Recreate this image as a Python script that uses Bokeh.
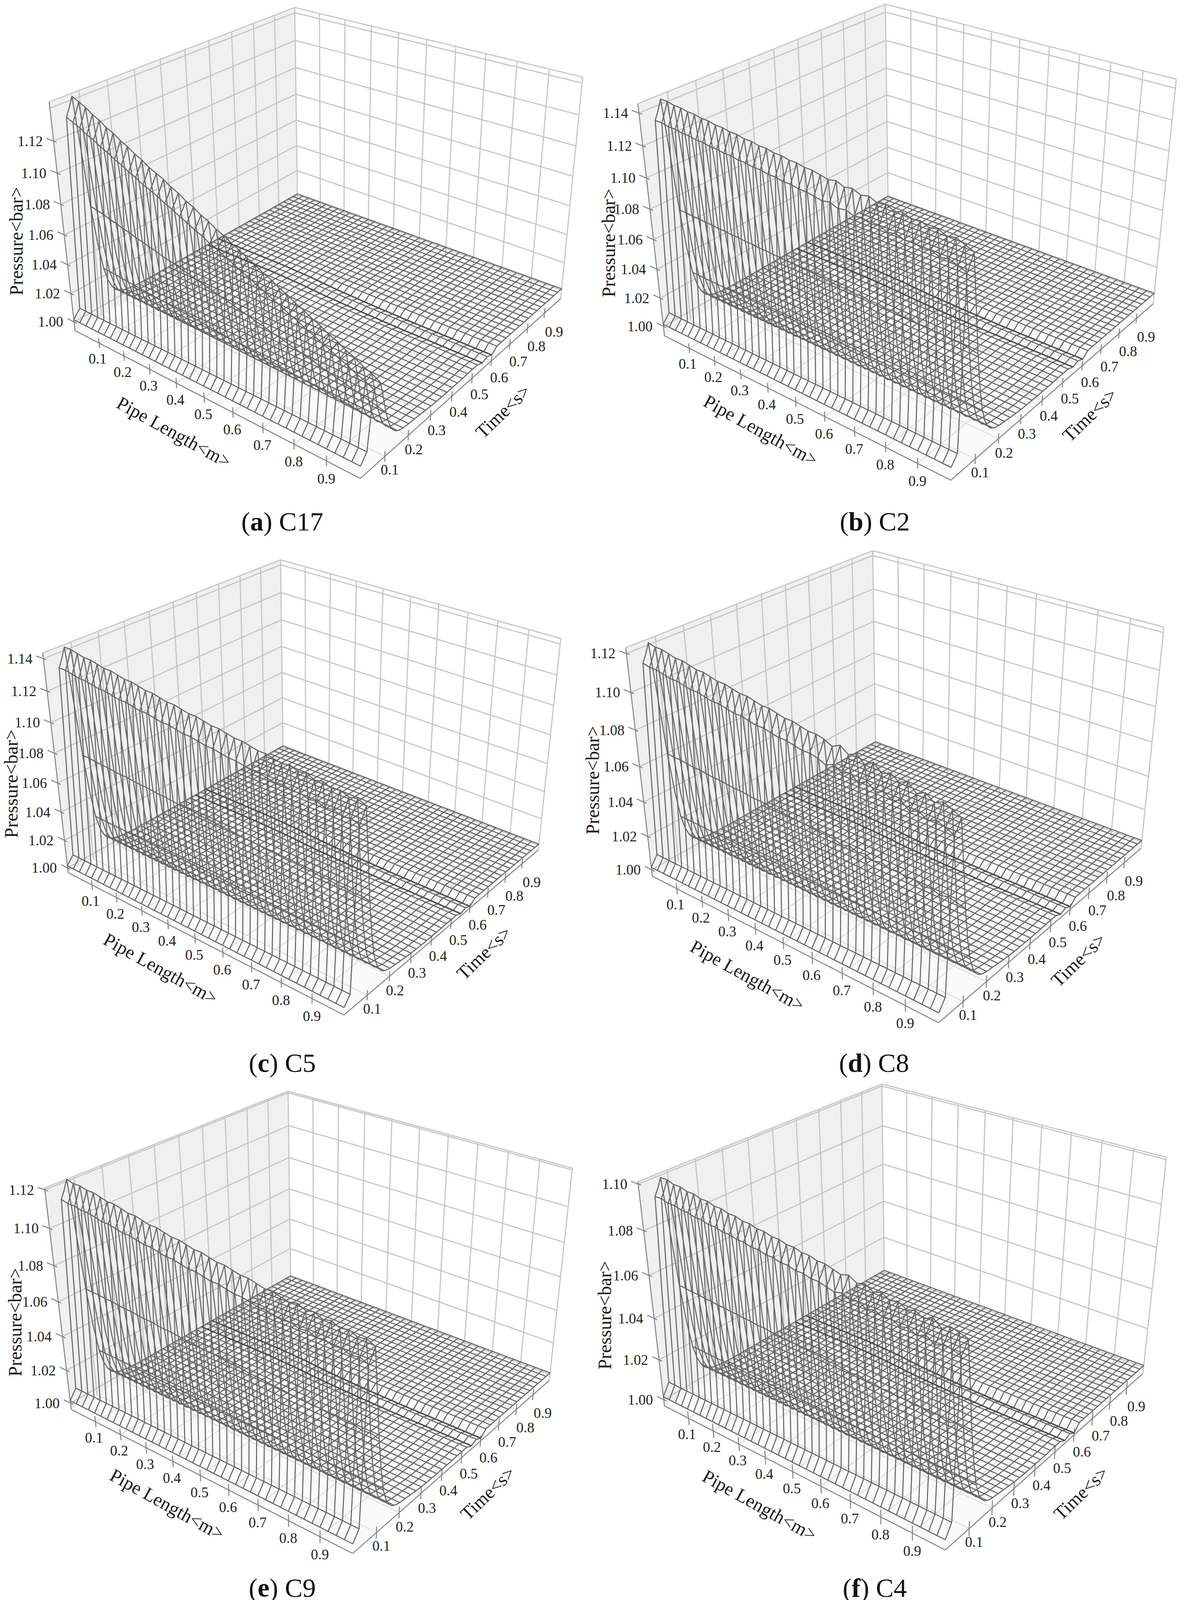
import numpy as np
from bokeh.embed import file_html
from bokeh.layouts import column, row
from bokeh.models import Range1d
from bokeh.plotting import figure
from bokeh.resources import INLINE

# ---------- values ----------
pipe_length_m = [i * 0.025 for i in range(41)]
tick_labels_xy = ["0.1", "0.2", "0.3", "0.4", "0.5", "0.6", "0.7", "0.8", "0.9"]
tick_values_xy = [0.1, 0.2, 0.3, 0.4, 0.5, 0.6, 0.7, 0.8, 0.9]

# time stations of the surface and which of them carry a drawn row
time_s = [0, 0.025, 0.0375, 0.05, 0.0625, 0.075, 0.0875, 0.1, 0.1125, 0.125, 0.1375, 0.15, 0.1625, 0.175, 0.1875,
          0.2, 0.225, 0.25, 0.275, 0.3, 0.325, 0.35, 0.375, 0.4, 0.425, 0.45, 0.475, 0.5, 0.525, 0.55, 0.575, 0.6,
          0.625, 0.65, 0.675, 0.7, 0.725, 0.75, 0.775, 0.8, 0.825, 0.85, 0.875, 0.9, 0.925, 0.95, 0.975, 1.0]
# share of the peak overpressure left at each time station
pulse_share = [0, 0, 0.45, 0.90, 0.95, 1.0, 0.75, 0.49, 0.30, 0.17, 0.10, 0.06, 0.035, 0.022, 0.014,
               0.009, 0.004, 0.002, 0, 0, 0, 0, 0, 0, 0, 0, 0, 0, 0, 0, 0, 0,
               0, 0, 0, 0, 0, 0, 0, 0, 0, 0, 0, 0, 0, 0, 0, 0]
# foot of the wave in bar, the same along the pipe
foot_bar = [0.0015, 0.007, 0.007, 0.004, 0.002, 0.001, 0.001, 0.001, 0.001, 0.001, 0.001, 0.001, 0.001, 0.001, 0.001,
            0.001, 0.001, 0.001, 0.001, 0.001, 0.001, 0.001, 0.001, 0.001, 0.001, 0.001, 0.001, 0.001, 0.001, 0.001, 0.001, 0.001,
            0.001, 0.001, 0.001, 0.001, 0.001, 0.001, 0.001, 0.001, 0.001, 0.001, 0.001, 0.001, 0.001, 0.001, 0.001, 0.001]
# shallow dip after the pulse, in bar, with the two grooves near 0.55 s and 0.6 s
dip_bar = [0, 0, 0, 0, 0, 0, 0, 0, 0, 0, 0, 0, 0, 0, 0,
           0, 0, -0.0003, -0.0006, -0.001, -0.0012, -0.0013, -0.0014, -0.0014, -0.0014, -0.0014, -0.0012, -0.0012, -0.0012, -0.0028, -0.0014, -0.0032,
           0, 0, 0, 0, 0, 0, 0, 0, 0, 0, 0, 0, 0, 0, 0, 0]
dip_along_pipe = [0, 0, 0, 0, 0, 0, 0, 0, 0, 0, 0, 0, 0.05, 0.1, 0.15, 0.2, 0.3, 0.4, 0.5, 0.6, 0.65,
                  0.7, 0.75, 0.8, 0.85, 0.9, 0.9, 0.95, 0.95, 1, 1, 1, 1, 1, 1, 1, 1, 1, 1, 1, 1]

peak_c17 = [1.141, 1.139, 1.137, 1.134, 1.132, 1.129, 1.127, 1.124, 1.122, 1.119, 1.117, 1.114, 1.112, 1.110, 1.107,
            1.105, 1.102, 1.100, 1.097, 1.095, 1.092, 1.090, 1.087, 1.085, 1.082, 1.080, 1.077, 1.075, 1.072, 1.070,
            1.067, 1.065, 1.062, 1.060, 1.057, 1.055, 1.052, 1.050, 1.047, 1.045, 1.042]
peak_c2 = [1.142, 1.142, 1.141, 1.141, 1.140, 1.140, 1.139, 1.139, 1.138, 1.138, 1.137, 1.137, 1.136, 1.136, 1.135,
           1.135, 1.134, 1.134, 1.133, 1.133, 1.132, 1.132, 1.131, 1.130, 1.131, 1.129, 1.130, 1.128, 1.129, 1.127,
           1.128, 1.126, 1.127, 1.125, 1.126, 1.124, 1.125, 1.123, 1.124, 1.122, 1.120]
peak_c5 = [1.141, 1.141, 1.140, 1.139, 1.139, 1.138, 1.137, 1.137, 1.136, 1.135, 1.135, 1.134, 1.133, 1.133, 1.132,
           1.131, 1.131, 1.130, 1.129, 1.129, 1.128, 1.127, 1.127, 1.126, 1.125, 1.125, 1.124, 1.123, 1.123, 1.122,
           1.121, 1.122, 1.120, 1.121, 1.119, 1.120, 1.118, 1.119, 1.117, 1.118, 1.116]
peak_c8 = [1.120, 1.119, 1.119, 1.118, 1.117, 1.117, 1.116, 1.115, 1.115, 1.114, 1.113, 1.113, 1.112, 1.111, 1.111,
           1.110, 1.109, 1.109, 1.108, 1.107, 1.107, 1.106, 1.105, 1.105, 1.104, 1.102, 1.104, 1.101, 1.103, 1.099,
           1.102, 1.098, 1.100, 1.097, 1.099, 1.095, 1.097, 1.094, 1.096, 1.094, 1.092]
peak_c9 = [1.120, 1.119, 1.119, 1.118, 1.118, 1.117, 1.116, 1.116, 1.115, 1.114, 1.114, 1.113, 1.112, 1.112, 1.111,
           1.110, 1.110, 1.109, 1.108, 1.108, 1.107, 1.106, 1.106, 1.105, 1.104, 1.104, 1.103, 1.102, 1.102, 1.101,
           1.100, 1.101, 1.099, 1.100, 1.098, 1.099, 1.097, 1.098, 1.096, 1.097, 1.095]
peak_c4 = [1.098, 1.098, 1.097, 1.097, 1.096, 1.096, 1.095, 1.095, 1.094, 1.094, 1.093, 1.093, 1.092, 1.092, 1.091,
           1.091, 1.090, 1.090, 1.089, 1.089, 1.088, 1.088, 1.087, 1.087, 1.086, 1.085, 1.086, 1.084, 1.085, 1.083,
           1.084, 1.082, 1.083, 1.081, 1.082, 1.080, 1.082, 1.079, 1.081, 1.080, 1.079]

z_grid_c17 = [1.00, 1.02, 1.04, 1.06, 1.08, 1.10, 1.12, 1.14]
z_grid_c2 = [1.00, 1.02, 1.04, 1.06, 1.08, 1.10, 1.12, 1.14]
z_grid_c5 = [1.00, 1.02, 1.04, 1.06, 1.08, 1.10, 1.12, 1.14]
z_grid_c8 = [1.00, 1.02, 1.04, 1.06, 1.08, 1.10, 1.12]
z_grid_c9 = [1.00, 1.02, 1.04, 1.06, 1.08, 1.10, 1.12]
z_grid_c4 = [1.00, 1.02, 1.04, 1.06, 1.08, 1.10]
z_labels_c17 = ["1.00", "1.02", "1.04", "1.06", "1.08", "1.10", "1.12"]
z_labels_c2 = ["1.00", "1.02", "1.04", "1.06", "1.08", "1.10", "1.12", "1.14"]
z_labels_c5 = ["1.00", "1.02", "1.04", "1.06", "1.08", "1.10", "1.12", "1.14"]
z_labels_c8 = ["1.00", "1.02", "1.04", "1.06", "1.08", "1.10", "1.12"]
z_labels_c9 = ["1.00", "1.02", "1.04", "1.06", "1.08", "1.10", "1.12"]
z_labels_c4 = ["1.00", "1.02", "1.04", "1.06", "1.08", "1.10"]

# ---------- layout and camera of each panel (all in page pixels of the reference) ----------
ROW_Y = [8, 1400, 2775, 4110]
ROW_SPLIT = [1520, 1490, 1500]
X_LEFT, X_RIGHT = 8, 3045
SX = 1.0275


def pts(origin, sy, *zoomed):
    return [(origin[0] + a / SX, origin[1] + b / sy) for a, b in zoomed]


PANELS = [
    dict(tag="a", name="C17", peak=peak_c17, grid=z_grid_c17, labels=z_labels_c17, z0=0.9937, z1=1.1437,
         c=pts((0, 0), 1.136, (205, 970), (955, 1400), (1482, 877), (790, 598), (137, 305), (1540, 232)),
         press=pts((0, 0), 1.136, (50, 710))[0], pipe=pts((0, 0), 1.136, (465, 1265))[0], time=pts((0, 0), 1.136, (1330, 1205))[0],
         cap=pts((0, 0), 1.136, (750, 1525))[0]),
    dict(tag="b", name="C2", peak=peak_c2, grid=z_grid_c2, labels=z_labels_c2, z0=0.9932, z1=1.1456,
         c=pts((1526, 0), 1.136, (187, 985), (940, 1405), (1472, 892), (775, 607), (117, 310), (1533, 237)),
         press=pts((1526, 0), 1.136, (40, 715))[0], pipe=pts((1526, 0), 1.136, (440, 1260))[0], time=pts((1526, 0), 1.136, (1305, 1215))[0],
         cap=pts((1526, 0), 1.136, (740, 1525))[0]),
    dict(tag="c", name="C5", peak=peak_c5, grid=z_grid_c5, labels=z_labels_c5, z0=0.9965, z1=1.1435,
         c=pts((0, 1380), 1.12, (187, 965), (912, 1373), (1423, 900), (752, 617), (120, 335), (1485, 265)),
         press=pts((0, 1380), 1.12, (37, 710))[0], pipe=pts((0, 1380), 1.12, (430, 1240))[0], time=pts((0, 1380), 1.12, (1280, 1195))[0],
         cap=pts((0, 1380), 1.12, (750, 1510))[0]),
    dict(tag="d", name="C8", peak=peak_c8, grid=z_grid_c8, labels=z_labels_c8, z0=0.9961, z1=1.1229,
         c=pts((1526, 1380), 1.12, (155, 975), (908, 1395), (1440, 895), (742, 610), (85, 320), (1502, 243)),
         press=pts((1526, 1380), 1.12, (-2, 700))[0], pipe=pts((1526, 1380), 1.12, (405, 1260))[0], time=pts((1526, 1380), 1.12, (1275, 1215))[0],
         cap=pts((1526, 1380), 1.12, (738, 1510))[0]),
    dict(tag="e", name="C9", peak=peak_c9, grid=z_grid_c9, labels=z_labels_c9, z0=0.9961, z1=1.121,
         c=pts((0, 2754), 1.12, (195, 965), (935, 1378), (1452, 882), (772, 602), (125, 330), (1515, 250)),
         press=pts((0, 2754), 1.12, (47, 715))[0], pipe=pts((0, 2754), 1.12, (447, 1237))[0], time=pts((0, 2754), 1.12, (1290, 1205))[0],
         cap=(pts((0, 2754), 1.12, (750, 1505))[0][0], 4072)),
    dict(tag="f", name="C4", peak=peak_c4, grid=z_grid_c4, labels=z_labels_c4, z0=0.9968, z1=1.101,
         c=pts((1526, 2754), 1.12, (187, 955), (925, 1368), (1445, 862), (765, 587), (117, 312), (1507, 240)),
         press=pts((1526, 2754), 1.12, (30, 695))[0], pipe=pts((1526, 2754), 1.12, (437, 1240))[0], time=pts((1526, 2754), 1.12, (1282, 1205))[0],
         cap=(pts((1526, 2754), 1.12, (740, 1505))[0][0], 4072)),
]

SERIF = "Liberation Serif"
MESH = "#666666"
AXIS = "#868686"
WALL_GRID = "#c6c6c6"
FLOOR_GRID = "#dedede"
EM_TICK, EM_Z, EM_TITLE, EM_CAP = "37px", "37px", "48px", "68px"
BOLD_W = dict(a=0.5, b=0.556, c=0.444, d=0.556, e=0.444, f=0.333)


def homography(corners):
    src = [(0, 0), (1, 0), (1, 1), (0, 1)]
    A, b = [], []
    for (x, t), (u, v) in zip(src, corners):
        A.append([x, t, 1, 0, 0, 0, -u * x, -u * t]); b.append(u)
        A.append([0, 0, 0, x, t, 1, -v * x, -v * t]); b.append(v)
    return np.append(np.linalg.solve(np.array(A, float), np.array(b, float)), 1.0).reshape(3, 3)


def camera(panel):
    L, F, R, B, TL, TR = panel["c"]
    H = homography([L, F, R, B])
    m1 = (TL[0] - L[0]) / (TL[1] - L[1])
    m2 = (TR[0] - R[0]) / (TR[1] - R[1])
    vy = (R[0] - L[0] + m1 * L[1] - m2 * R[1]) / (m1 - m2)
    vx = L[0] + m1 * (vy - L[1])
    lam = (H[1, 2] - TL[1] * H[2, 2]) / (TL[1] - vy)
    z0, z1 = panel["z0"], panel["z1"]

    def project(x, t, z):
        x, t, z = np.broadcast_arrays(np.asarray(x, float), np.asarray(t, float), np.asarray(z, float))
        n = (z - z0) / (z1 - z0)
        w = H[2, 0] * x + H[2, 1] * t + H[2, 2] + lam * n
        u = H[0, 0] * x + H[0, 1] * t + H[0, 2] + lam * n * vx
        v = H[1, 0] * x + H[1, 1] * t + H[1, 2] + lam * n * vy
        return u / w, v / w
    return project


def segs(project, a, b):
    xs, ys = [], []
    for p, q in zip(a, b):
        u, v = project([p[0], q[0]], [p[1], q[1]], [p[2], q[2]])
        xs.append(list(u)); ys.append(list(v))
    return xs, ys


def draw_panel(fig, panel):
    project = camera(panel)
    z0, z1 = panel["z0"], panel["z1"]

    # walls and floor
    fu, fv = project([0, 1, 1, 0], [0, 0, 1, 1], z0)
    fig.patch(list(fu), list(fv), fill_color="#fafafa", line_color=None)
    wu, wv = project([0, 0, 0, 0], [0, 1, 1, 0], [z0, z0, z1, z1])
    fig.patch(list(wu), list(wv), fill_color="#f0f0f0", line_color=None)

    tv = tick_values_xy
    a = [(v, 0, z0) for v in tv] + [(0, v, z0) for v in tv]
    b = [(v, 1, z0) for v in tv] + [(1, v, z0) for v in tv]
    xs, ys = segs(project, a, b)
    fig.multi_line(xs, ys, line_color=FLOOR_GRID, line_width=2.6)

    a = [(0, v, z0) for v in tv] + [(v, 1, z0) for v in tv]
    b = [(0, v, z1) for v in tv] + [(v, 1, z1) for v in tv]
    for z in panel["grid"] + [z1]:
        a += [(0, 0, z), (0, 1, z)]
        b += [(0, 1, z), (1, 1, z)]
    a += [(0, 1, z0), (1, 1, z0)]
    b += [(0, 1, z1), (1, 1, z1)]
    xs, ys = segs(project, a, b)
    fig.multi_line(xs, ys, line_color=WALL_GRID, line_width=3.0)

    # axis edges and ticks
    a = [(0, 0, z0), (0, 0, z0), (1, 0, z0)]
    b = [(0, 0, z1), (1, 0, z0), (1, 1, z0)]
    for v in tv:
        a += [(v, 0, z0 - 0.0035), (1, v, z0 - 0.0035)]
        b += [(v, 0, z0 + 0.0035), (1, v, z0 + 0.0035)]
    for v in [float(s) for s in panel["labels"]]:
        a.append((-0.028, 0, v)); b.append((0.012, 0, v))
    xs, ys = segs(project, a, b)
    fig.multi_line(xs, ys, line_color=AXIS, line_width=2.6)

    # surface
    peak = np.array(panel["peak"])
    t = np.array(time_s)
    surface = (1.0 + np.outer(peak - 1.0, pulse_share)
               + np.array(foot_bar)[None, :]
               + np.outer(dip_along_pipe, dip_bar))
    x = np.array(pipe_length_m)
    xs, ys = [], []
    for i in range(len(x)):
        u, v = project(x[i], t, surface[i])
        xs.append(list(u)); ys.append(list(v))
    dark_xs, dark_ys = [], []
    for j in range(len(t)):
        if abs(t[j] / 0.025 - round(t[j] / 0.025)) > 1e-6:
            continue
        u, v = project(x, t[j], surface[:, j])
        if abs(t[j] - 0.55) < 1e-6 or abs(t[j] - 0.6) < 1e-6:
            dark_xs.append(list(u)); dark_ys.append(list(v))
        else:
            xs.append(list(u)); ys.append(list(v))
    fig.multi_line(xs, ys, line_color=MESH, line_width=2.7, line_join="round")
    fig.multi_line(dark_xs, dark_ys, line_color="#4c4c4c", line_width=3.6)

    # tick labels
    tn = np.array(tv)
    u, v = project(tv, 0, z0)
    fig.text(list(u - 4 + 4 * tn), list(v + 40 + 6 * tn), text=tick_labels_xy, text_font=SERIF, text_font_size=EM_TICK,
             text_align="center", text_baseline="middle", text_color="#222222")
    u, v = project(1, tv, z0)
    fig.text(list(u + 11 + 15 * tn), list(v + 33 + 16 * tn), text=tick_labels_xy, text_font=SERIF, text_font_size=EM_TICK,
             text_align="center", text_baseline="middle", text_color="#222222")
    zv = [float(s) for s in panel["labels"]]
    u, v = project(0, 0, zv)
    fig.text(list(u - 60), list(v), text=panel["labels"], text_font=SERIF, text_font_size=EM_Z,
             text_align="center", text_baseline="middle", text_color="#222222")

    # axis titles
    for key, txt, ang in (("press", "Pressure<bar>", 90), ("pipe", "Pipe Length<m>", -29), ("time", "Time<s>", 44)):
        fig.text([panel[key][0]], [panel[key][1]], text=[txt], angle=[np.radians(ang)], text_font=SERIF,
                 text_font_size=EM_TITLE, text_align="center", text_baseline="middle", text_color="#1a1a1a")

    # caption
    em = 68.0
    tail = ") " + panel["name"]
    tail_w = 0.333 + 0.25 + 0.667 + 0.5 * (len(panel["name"]) - 1)
    lead = BOLD_W[panel["tag"]]
    total = 0.333 + lead + tail_w
    cx, cy = panel["cap"]
    left = cx - total * em / 2
    fig.text([left], [cy], text=["("], text_font=SERIF, text_font_size=EM_CAP, text_baseline="middle", text_color="#111111")
    fig.text([left + 0.333 * em], [cy], text=[panel["tag"]], text_font=SERIF, text_font_size=EM_CAP, text_font_style="bold",
             text_baseline="middle", text_color="#111111")
    fig.text([left + (0.333 + lead) * em], [cy], text=[tail], text_font=SERIF, text_font_size=EM_CAP, text_baseline="middle",
             text_color="#111111")


def make_fig(x0, x1, y0, y1):
    fig = figure(width=int(x1 - x0), height=int(y1 - y0), x_range=Range1d(x0, x1), y_range=Range1d(y1, y0),
                 x_axis_type=None, y_axis_type=None, toolbar_location=None, output_backend="svg",
                 min_border=0, outline_line_color=None, background_fill_color="white")
    fig.grid.visible = False
    return fig


rows = []
for r in range(3):
    left = make_fig(X_LEFT, ROW_SPLIT[r], ROW_Y[r], ROW_Y[r + 1])
    right = make_fig(ROW_SPLIT[r], X_RIGHT, ROW_Y[r], ROW_Y[r + 1])
    draw_panel(left, PANELS[2 * r])
    draw_panel(right, PANELS[2 * r + 1])
    rows.append(row(left, right))

page = column(*rows)
open("out.html", "w").write(file_html(page, INLINE))
